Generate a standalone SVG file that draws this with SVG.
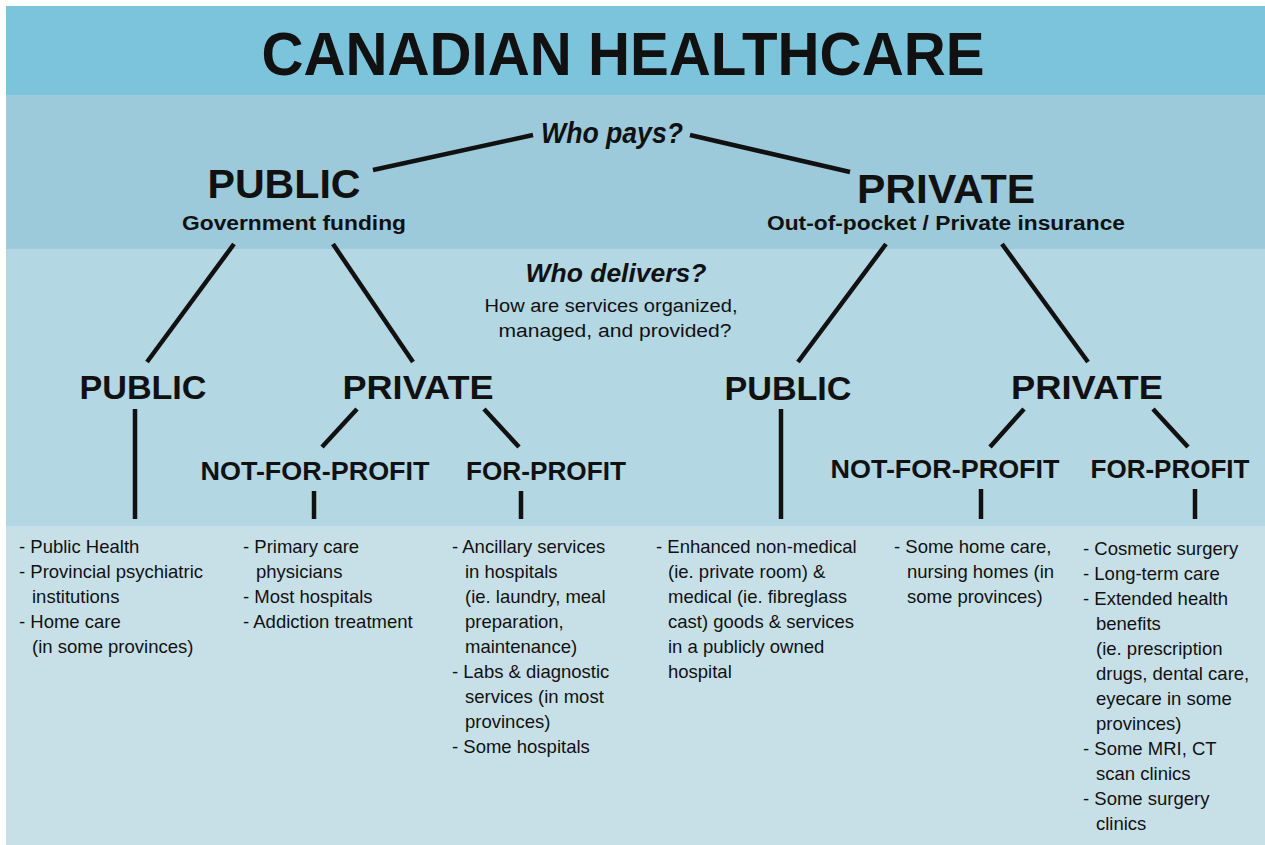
<svg xmlns="http://www.w3.org/2000/svg" width="1265" height="845" viewBox="0 0 1265 845">
<style>
.h{font-family:"Liberation Sans",Arial,sans-serif;font-weight:bold;fill:#111;text-anchor:middle}
.q{font-family:"Liberation Sans",Arial,sans-serif;font-weight:bold;font-style:italic;fill:#111;text-anchor:middle}
.s{font-family:"Liberation Sans",Arial,sans-serif;fill:#111;text-anchor:middle;font-size:18px}
.b{font-family:"Liberation Sans",Arial,sans-serif;fill:#111;font-size:18.5px}
.c line{stroke:#111;stroke-width:4.5;stroke-linecap:butt}
</style>
<rect x="0" y="0" width="1265" height="845" fill="#ffffff"/>
<rect x="6" y="6" width="1259" height="89" fill="#7cc3dc"/>
<rect x="6" y="95" width="1259" height="154" fill="#9ccadb"/>
<rect x="6" y="249" width="1259" height="277" fill="#b3d7e3"/>
<rect x="6" y="526" width="1259" height="319" fill="#c7e0e7"/>

<g id="title"><text class="h" x="623" y="75" font-size="62" textLength="723" lengthAdjust="spacingAndGlyphs">CANADIAN HEALTHCARE</text></g>

<g class="c" id="connectors">
<line x1="533" y1="135" x2="373" y2="170"/>
<line x1="690" y1="135" x2="850" y2="172"/>
<line x1="234" y1="244" x2="147" y2="362"/>
<line x1="333" y1="244" x2="413" y2="362"/>
<line x1="886" y1="244" x2="798" y2="362"/>
<line x1="1002" y1="244" x2="1088" y2="362"/>
<line x1="135" y1="409" x2="135" y2="519"/>
<line x1="357" y1="409" x2="322" y2="447"/>
<line x1="484" y1="409" x2="519" y2="447"/>
<line x1="314" y1="491" x2="314" y2="519"/>
<line x1="521" y1="491" x2="521" y2="519"/>
<line x1="781" y1="409" x2="781" y2="519"/>
<line x1="1024" y1="409" x2="990" y2="447"/>
<line x1="1153" y1="409" x2="1188" y2="447"/>
<line x1="981" y1="489" x2="981" y2="519"/>
<line x1="1195" y1="489" x2="1195" y2="519"/>
</g>

<g id="who-pays"><text class="q" x="612" y="143" font-size="29" textLength="142" lengthAdjust="spacingAndGlyphs">Who pays?</text></g>

<g id="pay-public">
<text class="h" x="284" y="198" font-size="41" textLength="153" lengthAdjust="spacingAndGlyphs">PUBLIC</text>
<text class="h" x="294" y="230" font-size="20" textLength="224" lengthAdjust="spacingAndGlyphs">Government funding</text>
</g>
<g id="pay-private">
<text class="h" x="946" y="203" font-size="40" textLength="178" lengthAdjust="spacingAndGlyphs">PRIVATE</text>
<text class="h" x="946" y="230" font-size="20" textLength="358" lengthAdjust="spacingAndGlyphs">Out-of-pocket / Private insurance</text>
</g>

<g id="who-delivers">
<text class="q" x="616" y="282" font-size="25" textLength="181" lengthAdjust="spacingAndGlyphs">Who delivers?</text>
<text class="s" x="611" y="312" textLength="253" lengthAdjust="spacingAndGlyphs">How are services organized,</text>
<text class="s" x="615" y="337" textLength="233" lengthAdjust="spacingAndGlyphs">managed, and provided?</text>
</g>

<g id="pub-public"><text class="h" x="143" y="399" font-size="34" textLength="127" lengthAdjust="spacingAndGlyphs">PUBLIC</text></g>
<g id="pub-private"><text class="h" x="418" y="399" font-size="34" textLength="151" lengthAdjust="spacingAndGlyphs">PRIVATE</text></g>
<g id="pub-nfp"><text class="h" x="315" y="480" font-size="26" textLength="229" lengthAdjust="spacingAndGlyphs">NOT-FOR-PROFIT</text></g>
<g id="pub-fp"><text class="h" x="546" y="480" font-size="26" textLength="160" lengthAdjust="spacingAndGlyphs">FOR-PROFIT</text></g>
<g id="priv-public"><text class="h" x="788" y="400" font-size="34" textLength="127" lengthAdjust="spacingAndGlyphs">PUBLIC</text></g>
<g id="priv-private"><text class="h" x="1087" y="399" font-size="34" textLength="152" lengthAdjust="spacingAndGlyphs">PRIVATE</text></g>
<g id="priv-nfp"><text class="h" x="945" y="478" font-size="26" textLength="229" lengthAdjust="spacingAndGlyphs">NOT-FOR-PROFIT</text></g>
<g id="priv-fp"><text class="h" x="1170" y="478" font-size="26" textLength="159" lengthAdjust="spacingAndGlyphs">FOR-PROFIT</text></g>

<g id="list-public-public">
<text class="b" x="19" y="553">- Public Health</text>
<text class="b" x="19" y="578">- Provincial psychiatric</text>
<text class="b" x="32" y="603">institutions</text>
<text class="b" x="19" y="628">- Home care</text>
<text class="b" x="32" y="653">(in some provinces)</text>
</g>
<g id="list-public-nfp">
<text class="b" x="243" y="553">- Primary care</text>
<text class="b" x="256" y="578">physicians</text>
<text class="b" x="243" y="603">- Most hospitals</text>
<text class="b" x="243" y="628">- Addiction treatment</text>
</g>
<g id="list-public-fp">
<text class="b" x="452" y="553">- Ancillary services</text>
<text class="b" x="465" y="578">in hospitals</text>
<text class="b" x="465" y="603">(ie. laundry, meal</text>
<text class="b" x="465" y="628">preparation,</text>
<text class="b" x="465" y="653">maintenance)</text>
<text class="b" x="452" y="678">- Labs &amp; diagnostic</text>
<text class="b" x="465" y="703">services (in most</text>
<text class="b" x="465" y="728">provinces)</text>
<text class="b" x="452" y="753">- Some hospitals</text>
</g>
<g id="list-private-public">
<text class="b" x="656" y="553">- Enhanced non-medical</text>
<text class="b" x="668" y="578">(ie. private room) &amp;</text>
<text class="b" x="668" y="603">medical (ie. fibreglass</text>
<text class="b" x="668" y="628">cast) goods &amp; services</text>
<text class="b" x="668" y="653">in a publicly owned</text>
<text class="b" x="668" y="678">hospital</text>
</g>
<g id="list-private-nfp">
<text class="b" x="894" y="553">- Some home care,</text>
<text class="b" x="907" y="578">nursing homes (in</text>
<text class="b" x="907" y="603">some provinces)</text>
</g>
<g id="list-private-fp">
<text class="b" x="1083" y="555">- Cosmetic surgery</text>
<text class="b" x="1083" y="580">- Long-term care</text>
<text class="b" x="1083" y="605">- Extended health</text>
<text class="b" x="1096" y="630">benefits</text>
<text class="b" x="1096" y="655">(ie. prescription</text>
<text class="b" x="1096" y="680">drugs, dental care,</text>
<text class="b" x="1096" y="705">eyecare in some</text>
<text class="b" x="1096" y="730">provinces)</text>
<text class="b" x="1083" y="755">- Some MRI, CT</text>
<text class="b" x="1096" y="780">scan clinics</text>
<text class="b" x="1083" y="805">- Some surgery</text>
<text class="b" x="1096" y="830">clinics</text>
</g>
</svg>
